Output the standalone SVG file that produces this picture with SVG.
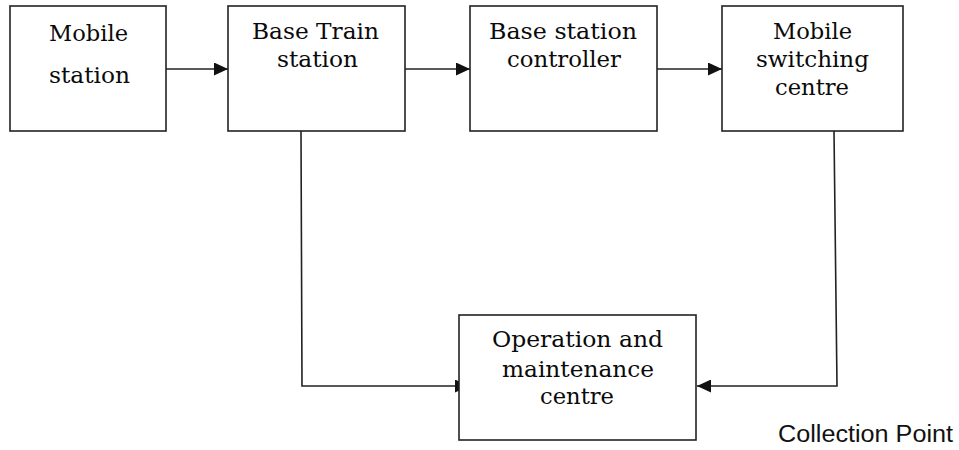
<svg xmlns="http://www.w3.org/2000/svg" width="959" height="450" viewBox="0 0 959 450">
  <style>
    .box { fill: #ffffff; stroke: #222222; stroke-width: 1.6; }
    .lbl { font-family: "DejaVu Serif", "Liberation Serif", serif; font-size: 22.5px; fill: #0a0a0a; text-anchor: middle; }
    .wire { fill: none; stroke: #222222; stroke-width: 1.6; }
    .note { font-family: "Liberation Sans", Arial, sans-serif; font-size: 23px; fill: #111111; }
  </style>
  <defs>
    <marker id="arrow" viewBox="0 0 14 13" refX="14" refY="6.5" markerWidth="14" markerHeight="13" markerUnits="userSpaceOnUse" orient="auto">
      <path d="M0,0 L14,6.5 L0,13 Z" fill="#111111"/>
    </marker>
  </defs>
  <rect width="959" height="450" fill="#ffffff"/>

  <g id="connectors">
    <line class="wire" x1="166" y1="69" x2="228" y2="69" marker-end="url(#arrow)"/>
    <line class="wire" x1="405" y1="69" x2="470" y2="69" marker-end="url(#arrow)"/>
    <line class="wire" x1="657" y1="69" x2="722" y2="69" marker-end="url(#arrow)"/>
    <polyline class="wire" points="301,131 302,386 469,386" marker-end="url(#arrow)"/>
    <polyline class="wire" points="834,131 837,386 697,386" marker-end="url(#arrow)"/>
  </g>

  <g id="mobile-station">
    <rect class="box" x="10" y="6" width="156" height="125"/>
    <text class="lbl" x="88.5" y="41" textLength="79" lengthAdjust="spacingAndGlyphs">Mobile</text>
    <text class="lbl" x="89.5" y="83" textLength="81" lengthAdjust="spacingAndGlyphs">station</text>
  </g>

  <g id="base-train-station">
    <rect class="box" x="228" y="6" width="177" height="125"/>
    <text class="lbl" x="315.5" y="39" textLength="127" lengthAdjust="spacingAndGlyphs">Base Train</text>
    <text class="lbl" x="317.5" y="67" textLength="81" lengthAdjust="spacingAndGlyphs">station</text>
  </g>

  <g id="base-station-controller">
    <rect class="box" x="470" y="6" width="187" height="125"/>
    <text class="lbl" x="563" y="39" textLength="148" lengthAdjust="spacingAndGlyphs">Base station</text>
    <text class="lbl" x="564" y="67" textLength="114" lengthAdjust="spacingAndGlyphs">controller</text>
  </g>

  <g id="mobile-switching-centre">
    <rect class="box" x="722" y="6" width="181" height="125"/>
    <text class="lbl" x="812.5" y="39" textLength="79" lengthAdjust="spacingAndGlyphs">Mobile</text>
    <text class="lbl" x="812.5" y="67" textLength="113" lengthAdjust="spacingAndGlyphs">switching</text>
    <text class="lbl" x="812" y="95" textLength="74" lengthAdjust="spacingAndGlyphs">centre</text>
  </g>

  <g id="operation-maintenance-centre">
    <rect class="box" x="459" y="315" width="237" height="125"/>
    <text class="lbl" x="577.5" y="347" textLength="171" lengthAdjust="spacingAndGlyphs">Operation and</text>
    <text class="lbl" x="578" y="377" textLength="152" lengthAdjust="spacingAndGlyphs">maintenance</text>
    <text class="lbl" x="577" y="404" textLength="74" lengthAdjust="spacingAndGlyphs">centre</text>
  </g>

  <g id="collection-point">
    <text class="note" x="778" y="442" textLength="175" lengthAdjust="spacingAndGlyphs">Collection Point</text>
  </g>
</svg>
